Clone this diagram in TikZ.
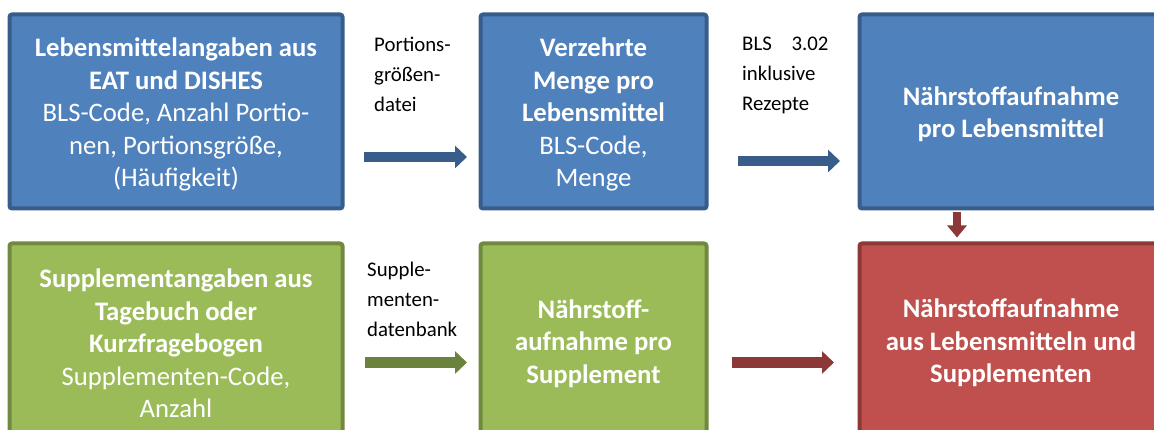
\documentclass[tikz,border=0pt]{standalone}
\usepackage{fontspec}
\setmainfont{Carlito}
\usetikzlibrary{arrows.meta}
\definecolor{bfill}{HTML}{4F81BD}
\definecolor{bdraw}{HTML}{385D8A}
\definecolor{gfill}{HTML}{9BBB59}
\definecolor{gdraw}{HTML}{71893F}
\definecolor{rfill}{HTML}{C0504D}
\definecolor{rdraw}{HTML}{8C3836}
\tikzset{
  box/.style={rectangle, rounded corners=2.5pt, line width=4pt, minimum height=194pt, inner sep=0pt},
  boxtext/.style={text=white, align=center, inner sep=0pt, font=\fontsize{26.7}{32.5}\selectfont},
  bluebox/.style={box, fill=bfill, draw=bdraw},
  greenbox/.style={box, fill=gfill, draw=gdraw},
  redbox/.style={box, fill=rfill, draw=rdraw},
  lbl/.style={anchor=north west, align=left, inner sep=0pt, font=\fontsize{20.8}{30}\selectfont},
  blockarrow/.style={line width=10.5pt, -{Triangle[length=12pt,width=22pt]}},
}
\begin{document}
\begin{tikzpicture}[x=1pt,y=-1pt]
\useasboundingbox (0,0) rectangle (1154,430);
\node[bluebox, minimum width=333pt] (b1) at (176,111.5) {};
\node[bluebox, minimum width=226pt] (b2) at (593.5,111.5) {};
\node[bluebox, minimum width=303pt] (b3) at (1011,111.5) {};
\node[greenbox, minimum width=333pt] (g1) at (176,340.5) {};
\node[greenbox, minimum width=226pt] (g2) at (593.5,340.5) {};
\node[redbox, minimum width=303pt] (r1) at (1011,340.5) {};

\node[boxtext] (b1t) at ([yshift=-3pt]b1.center) {\textbf{Lebensmittelangaben aus}\\\textbf{EAT und DISHES}\\BLS-Code, Anzahl Portio-\\nen, Portionsgröße,\\(Häufigkeit)};
\node[boxtext] (b2t) at ([yshift=-3pt]b2.center) {\textbf{Verzehrte}\\\textbf{Menge pro}\\\textbf{Lebensmittel}\\BLS-Code,\\Menge};
\node[boxtext] (b3t) at ([yshift=-2.5pt]b3.center) {\textbf{Nährstoffaufnahme}\\\textbf{pro Lebensmittel}};
\node[boxtext] (g1t) at ([yshift=-3pt]g1.center) {\textbf{Supplementangaben aus}\\\textbf{Tagebuch oder}\\\textbf{Kurzfragebogen}\\Supplementen-Code,\\Anzahl};
\node[boxtext] (g2t) at ([yshift=-3pt]g2.center) {\textbf{Nährstoff-}\\\textbf{aufnahme pro}\\\textbf{Supplement}};
\node[boxtext] (r1t) at ([yshift=-2.5pt]r1.center) {\textbf{Nährstoffaufnahme}\\\textbf{aus Lebensmitteln und}\\\textbf{Supplementen}};

\node[lbl] (l1) at (374,37) {Portions-\\größen-\\datei};
\node[lbl] (l2) at (742,37) {BLS\hspace{0.95em}3.02\\inklusive\\Rezepte};
\node[lbl] (l3) at (367,262) {Supple-\\menten-\\datenbank};

\coordinate (a1s) at (364,157);
\coordinate (a1e) at (467,157);
\coordinate (a2s) at (738,161);
\coordinate (a2e) at (840,161);
\coordinate (a3s) at (365,362.5);
\coordinate (a3e) at (467,362.5);
\coordinate (a4s) at (732,362.5);
\coordinate (a4e) at (834,362.5);
\draw[blockarrow, draw=bdraw] (a1s) -- (a1e);
\draw[blockarrow, draw=bdraw] (a2s) -- (a2e);
\draw[blockarrow, draw=gdraw!95!black] (a3s) -- (a3e);
\draw[blockarrow, draw=rdraw] (a4s) -- (a4e);
\draw[line width=8.5pt, draw=rdraw, -{Triangle[length=12pt,width=19pt]}] ([xshift=-54pt,yshift=-1.5pt]b3.south) -- ([xshift=-54pt,yshift=4pt]r1.north);
\end{tikzpicture}
\end{document}
